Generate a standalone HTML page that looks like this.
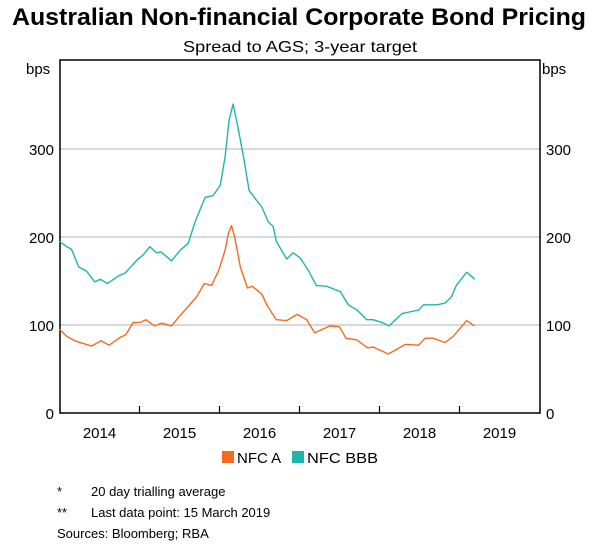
<!DOCTYPE html>
<html><head><meta charset="utf-8"><style>
body{margin:0;background:#fff;font-family:"Liberation Sans",Arial,sans-serif;}
svg text{font-family:"Liberation Sans",Arial,sans-serif;fill:#000;}
</style></head><body>
<svg id="chart" width="600" height="545" viewBox="0 0 600 545" xmlns="http://www.w3.org/2000/svg">
<text x="12" y="25" font-size="24" font-weight="bold" textLength="574" lengthAdjust="spacingAndGlyphs">Australian Non-financial Corporate Bond Pricing</text>
<text x="183" y="52" font-size="16" textLength="234" lengthAdjust="spacingAndGlyphs">Spread to AGS; 3-year target</text>
<text x="26" y="74" font-size="15">bps</text>
<text x="542" y="74" font-size="15">bps</text>
<g id="grid"></g><g id="axes"></g><g id="series"></g>
<g>
<rect x="222" y="451" width="12" height="12" fill="#f26b21"/>
<text x="237" y="463" font-size="15">NFC A</text>
<rect x="292" y="451" width="12" height="12" fill="#1fb5ad"/>
<text x="307" y="463" font-size="15" textLength="71" lengthAdjust="spacingAndGlyphs">NFC BBB</text>
</g>
<text x="57" y="496" font-size="13">*</text>
<text x="91" y="496" font-size="13">20 day trialling average</text>
<text x="57" y="517" font-size="13">**</text>
<text x="91" y="517" font-size="13">Last data point: 15 March 2019</text>
<text x="57" y="538" font-size="13">Sources:  Bloomberg; RBA</text>
</svg>
<script>
const yTicks=[0,100,200,300];
const years=[2014,2015,2016,2017,2018,2019];
const bbbDates=[2014.00,2014.09,2014.15,2014.24,2014.34,2014.44,2014.51,2014.60,2014.74,2014.82,2014.97,2015.05,2015.13,2015.21,2015.27,2015.40,2015.51,2015.61,2015.69,2015.82,2015.92,2016.01,2016.07,2016.12,2016.17,2016.23,2016.30,2016.37,2016.46,2016.53,2016.61,2016.67,2016.71,2016.84,2016.92,2017.01,2017.11,2017.21,2017.34,2017.51,2017.61,2017.72,2017.84,2017.92,2018.03,2018.12,2018.28,2018.49,2018.55,2018.72,2018.82,2018.90,2018.96,2019.09,2019.19];
const bbbValues=[195,189,186,166,161,149,152,147,156,159,174,180,189,182,183,173,185,193,216,245,247,259,291,333,351,325,291,253,242,234,217,212,195,175,182,176,162,145,144,138,123,117,106,106,103,99,113,117,123,123,125,132,145,160,152];
const aDates=[2014.00,2014.09,2014.19,2014.40,2014.52,2014.62,2014.76,2014.83,2014.92,2015.01,2015.08,2015.19,2015.28,2015.40,2015.51,2015.61,2015.72,2015.81,2015.90,2015.99,2016.07,2016.11,2016.15,2016.19,2016.26,2016.35,2016.41,2016.53,2016.59,2016.71,2016.84,2016.97,2017.09,2017.19,2017.38,2017.50,2017.58,2017.72,2017.85,2017.92,2018.11,2018.21,2018.32,2018.49,2018.57,2018.67,2018.82,2018.92,2019.09,2019.19];
const aValues=[95,87,82,76,82,77,86,89,103,103,106,99,102,99,111,121,133,147,145,162,185,204,213,200,166,142,144,135,123,106,105,112,106,91,99,98,85,83,74,75,67,72,78,77,85,85,80,87,105,99];

const L=60,R=540,T=60,B=413;
const xs=d=>59.5+(d-2014)*80;
const ys=v=>B-v*0.88;
const NS='http://www.w3.org/2000/svg';
function mk(tag,attrs,parent){const e=document.createElementNS(NS,tag);for(const k in attrs)e.setAttribute(k,attrs[k]);parent.appendChild(e);return e;}
const grid=document.getElementById('grid'),axes=document.getElementById('axes'),ser=document.getElementById('series');
yTicks.forEach(v=>{
 if(v>0){const g=mk('line',{x1:L,x2:R,y1:ys(v),y2:ys(v),stroke:'#b0b0b0','stroke-width':1},grid);
 
 }
 const t1=mk('text',{x:L-6,y:ys(v)+6,'font-size':15,'text-anchor':'end'},axes);t1.textContent=v;
 
 
 const t2=mk('text',{x:R+6,y:ys(v)+6,'font-size':15},axes);t2.textContent=v;
 
 
});
const fr=mk('rect',{x:L,y:T,width:R-L,height:B-T,fill:'none',stroke:'#000','stroke-width':1.5},axes);


years.forEach(y=>{
 if(y>2014){const tk=mk('line',{x1:xs(y),x2:xs(y),y1:B,y2:B-7,stroke:'#000','stroke-width':1.2},axes);
 
 }
 const t=mk('text',{x:xs(y+0.5),y:B+25,'font-size':15,'text-anchor':'middle'},axes);t.textContent=y;
 
 
});
function line(d,v,c,name){
 const p=mk('path',{d:d.map((x,i)=>(i?'L':'M')+xs(x).toFixed(1)+','+ys(v[i]).toFixed(1)).join(''),fill:'none',stroke:c,'stroke-width':1.4,'stroke-linejoin':'round'},ser);
 
 
}
line(bbbDates,bbbValues,'#1fb5ad','nfc-bbb-line');
line(aDates,aValues,'#f26b21','nfc-a-line');
</script>
</body></html>
